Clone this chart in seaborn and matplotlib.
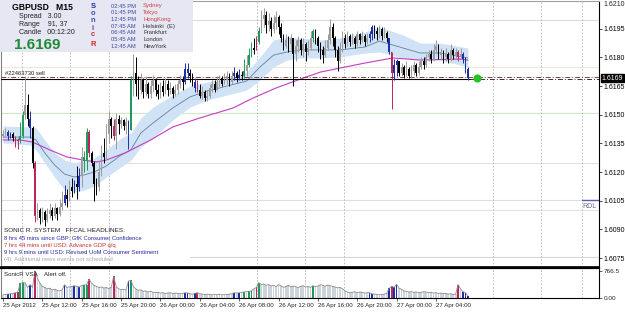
import numpy as np
import pandas as pd
import matplotlib
matplotlib.use("Agg")
import matplotlib.pyplot as plt
import matplotlib.transforms as mtransforms
from matplotlib.patches import Rectangle
import seaborn as sns

sns.set_theme(style="white")
plt.rcParams['font.family'] = ['Liberation Sans', 'DejaVu Sans']

# GBPUSD M15 bars from 25 Apr 08:00, prices in pips above 1.6000
first_open = 139
close = [140, 141, 139, 140, 138, 136, 137, 139, 150, 155,
         148, 143, 125, 97, 100, 96, 99, 95, 98, 100,
         97, 101, 98, 102, 104, 108, 106, 112, 110, 114,
         112, 118, 128, 126, 141, 130, 125, 114, 112, 120,
         130, 128, 140, 148, 144, 139, 148, 145, 147, 144,
         146, 142, 168, 172, 166, 163, 168, 162, 166, 161,
         165, 168, 163, 161, 165, 162, 166, 163, 164, 161,
         163, 166, 168, 167, 174, 172, 170, 167, 164, 163,
         160, 162, 159, 160, 164, 166, 163, 167, 169, 166,
         168, 170, 167, 170, 172, 169, 171, 170, 173, 176,
         181, 185, 184, 188, 194, 200, 202, 197, 199, 195,
         198, 201, 196, 190, 186, 189, 187, 190, 182, 186,
         189, 184, 187, 183, 185, 190, 194, 190, 186, 184,
         181, 185, 189, 196, 190, 184, 178, 185, 190, 187,
         191, 188, 190, 187, 192, 189, 191, 188, 190, 192,
         196, 194, 192, 195, 191, 193, 190, 183, 172, 176,
         178, 172, 175, 171, 174, 170, 173, 176, 172, 175,
         178, 176, 180, 182, 179, 184, 186, 181, 183, 180,
         182, 179, 184, 181, 183, 180, 182, 179, 174, 169]
high = [142, 143, 142, 141, 141, 139, 138, 146, 152, 170,
        161, 152, 144, 126, 104, 101, 102, 100, 101, 104,
        102, 104, 102, 106, 110, 113, 111, 116, 117, 116,
        123, 122, 133, 131, 143, 142, 131, 126, 117, 126,
        134, 138, 145, 152, 149, 148, 151, 150, 149, 148,
        149, 147, 170, 182, 180, 170, 172, 169, 170, 167,
        168, 171, 169, 166, 167, 168, 169, 168, 167, 165,
        166, 168, 171, 170, 177, 177, 174, 172, 169, 168,
        166, 165, 163, 163, 166, 168, 168, 170, 171, 170,
        172, 173, 172, 173, 175, 173, 174, 173, 179, 181,
        185, 188, 190, 191, 196, 205, 206, 204, 203, 201,
        202, 204, 202, 198, 192, 192, 191, 192, 190, 189,
        191, 190, 190, 188, 189, 194, 195, 195, 191, 188,
        186, 189, 192, 200, 198, 191, 186, 188, 194, 192,
        194, 192, 193, 191, 194, 193, 194, 192, 193, 194,
        197, 197, 196, 197, 196, 196, 194, 190, 183, 179,
        179, 178, 177, 176, 178, 175, 176, 178, 177, 178,
        180, 180, 182, 184, 184, 187, 189, 187, 185, 184,
        185, 183, 187, 185, 185, 184, 185, 183, 180, 175]
low = [138, 139, 137, 138, 136, 133, 132, 135, 138, 148,
       144, 138, 122, 94, 95, 93, 94, 92, 94, 96,
       95, 96, 95, 97, 100, 103, 102, 105, 107, 109,
       106, 110, 112, 120, 121, 128, 123, 105, 108, 110,
       118, 125, 127, 135, 138, 137, 132, 140, 143, 142,
       140, 132, 142, 160, 160, 158, 161, 159, 160, 159,
       159, 162, 160, 158, 159, 160, 161, 160, 161, 159,
       160, 161, 164, 163, 166, 169, 167, 165, 162, 162,
       159, 158, 157, 157, 159, 162, 162, 163, 165, 165,
       166, 166, 165, 166, 168, 167, 168, 168, 169, 170,
       175, 180, 182, 184, 187, 193, 196, 193, 194, 191,
       193, 195, 192, 188, 184, 185, 183, 184, 165, 178,
       183, 181, 180, 178, 181, 184, 188, 187, 183, 179,
       177, 180, 184, 187, 186, 180, 173, 177, 183, 185,
       186, 186, 187, 185, 186, 187, 188, 186, 187, 188,
       189, 190, 189, 190, 189, 190, 188, 182, 153, 168,
       170, 170, 170, 169, 170, 169, 169, 171, 170, 171,
       174, 174, 175, 178, 177, 178, 182, 179, 179, 177,
       178, 177, 178, 179, 179, 178, 179, 177, 172, 168]
volume = [90, 100, 110, 120, 130, 150, 170, 420, 440, 430,
          300, 380, 300, 766, 560, 420, 330, 300, 260, 280,
          230, 250, 220, 200, 230, 380, 300, 320, 330, 350,
          330, 310, 360, 370, 380, 530, 420, 360, 330, 300,
          310, 280, 300, 260, 300, 620, 320, 260, 240, 250,
          230, 480, 500, 320, 260, 220, 230, 190, 200, 170,
          190, 160, 150, 160, 140, 150, 130, 140, 150, 130,
          140, 130, 120, 130, 150, 140, 120, 110, 130, 150,
          120, 110, 100, 110, 100, 90, 100, 95, 100, 90,
          95, 100, 110, 120, 150, 140, 150, 160, 170, 180,
          190, 200, 260, 300, 440, 380, 400, 360, 380, 340,
          360, 320, 380, 350, 300, 330, 360, 310, 340, 320,
          300, 330, 350, 310, 330, 300, 350, 320, 340, 380,
          360, 330, 370, 350, 330, 310, 290, 300, 260, 200,
          170, 150, 160, 180, 150, 170, 160, 140, 150, 150,
          120, 110, 100, 90, 100, 110, 130, 280, 330, 300,
          390, 280, 250, 200, 190, 170, 180, 160, 170, 150,
          160, 180, 170, 150, 160, 140, 150, 130, 140, 120,
          130, 110, 120, 100, 110, 380, 260, 180, 150, 60]
vsa_blue = [2, 3, 11, 25, 29, 31, 51, 74, 75, 78, 94, 96, 149, 150, 157, 159, 160, 187, 188, 189]
vsa_green = [7, 8, 33, 34, 52, 98, 100, 101, 104, 126]
vsa_red = [5, 6, 13, 35, 45, 79, 103, 158, 185]

# moving averages (bar index, pips)
ema34_bar = [0, 11, 13.4, 17, 21, 25, 29, 33, 37, 42, 48, 52, 56, 61, 69, 76, 83, 91, 99,
             104.5, 110, 115.5, 121, 129, 137, 147, 153, 162.6, 169.5, 177.6, 189]
ema34 = [138.3, 138.3, 136.8, 130, 123.7, 119, 117.4, 118.5, 120, 123.2, 128.9, 131.6, 140.4,
         145.7, 153.5, 159.3, 162.4, 165, 167.6, 175, 181.2, 182.8, 183.9, 183.9, 183.9, 185.4,
         188.5, 184.9, 182.3, 182.3, 179.7]
ema34_high = [144.1, 143.6, 143.1, 136.8, 130, 126.3, 124.8, 126.3, 127.4, 131.6, 137.8, 140.4,
              148.3, 154, 160.3, 165, 167.1, 169.2, 172.3, 180.2, 189.1, 190.6, 190.1, 189.1,
              190.1, 193.3, 195.9, 191.7, 187.5, 187.5, 184.9]
ema34_low = [135.2, 134.2, 131.6, 124.8, 117.4, 110.6, 109.6, 110.6, 112.7, 117.4, 122.7, 126.3,
             133.1, 137.8, 147.2, 154, 157.7, 160.3, 162.9, 168.2, 175, 178.6, 179.7, 179.7,
             180.2, 182.3, 182.8, 179.7, 178.6, 178.6, 175]
ema89_bar = [0, 7, 12, 19, 26, 32.5, 38, 42, 49.6, 60, 69, 80, 93.5, 101.6, 111, 121, 129, 137,
             147, 158.5, 169.5, 186, 189]
ema89 = [136.8, 136.8, 135.7, 131.6, 127.9, 126.3, 125.3, 126.3, 130, 136.8, 143.6, 148.3,
         153.5, 158.7, 164, 168.7, 172.3, 174.4, 177, 179.7, 178.6, 179.1, 178.6]

time_ticks = [0, 16, 32, 48, 64, 80, 96, 112, 128, 144, 160, 176]
time_labels = ["25 Apr 2012", "25 Apr 12:00", "25 Apr 16:00", "25 Apr 20:00", "26 Apr 00:00",
               "26 Apr 04:00", "26 Apr 08:00", "26 Apr 12:00", "26 Apr 16:00", "26 Apr 20:00",
               "27 Apr 00:00", "27 Apr 04:00"]
grid_bars = [7.7, 27.2, 43.1, 103.3, 122.8, 138.6, 199.2, 218.7, 235.4]
price_ticks = [1.6195, 1.6180, 1.6165, 1.6150, 1.6135, 1.6120, 1.6105, 1.6090, 1.6075]
bid = 1.61692

def px(v):
    return 1.6 + np.asarray(v, dtype=float) / 10000

n = len(close)
df = pd.DataFrame({"bar": np.arange(n), "open": px([first_open] + close[:-1]),
                   "close": px(close), "high": px(high), "low": px(low), "volume": volume})
cols = []
for i, r in df.iterrows():
    if i in vsa_blue:
        cols.append("#1c2fa8")
    elif i in vsa_green:
        cols.append("#1f9a58")
    elif i in vsa_red:
        cols.append("#c0245c")
    elif r["close"] >= r["open"]:
        cols.append("#9c9c9c")
    else:
        cols.append("#000000")
df["color"] = cols

W, H = 625, 312
fig = plt.figure(figsize=(W / 100, H / 100), dpi=100)
fig.patch.set_facecolor("white")

def frame(x0, y0, x1, y1):
    return [x0 / W, 1 - y1 / H, (x1 - x0) / W, (y1 - y0) / H]

ax = fig.add_axes(frame(1, 1, 599, 267))
axv = fig.add_axes(frame(1, 268, 599, 298), sharex=ax)
for a in (ax, axv):
    a.set_facecolor("white")
    a.grid(False)

ax.set_xlim((1 - 3) / 2.46, (599 - 3) / 2.46)
ax.set_ylim(px(70.36), px(209.48))

# faint level lines
for lv, c in [(199.5, "#d9d9f2"), (175, "#f0e8d6"), (150.9, "#cfe8c6"), (124.7, "#dde2de"),
              (100, "#e4e4e4"), (105.4, "#dcdcec")]:
    ax.axhline(px(lv), color=c, lw=0.8, zorder=1)
ax.plot([76, 243], [px(75.6)] * 2, color="#d6d6d6", lw=0.8, zorder=1)
ax.plot([235.4, 243], [px(105.4)] * 2, color="#5a5ab8", lw=1.0, zorder=2)

for a in (ax, axv):
    for g in grid_bars:
        a.axvline(g, color="#b4b4b4", lw=0.6, ls=(0, (2, 2)), zorder=1)

# EMA34 band and lines
ax.fill_between(ema34_bar, px(ema34_low), px(ema34_high), color="#cfe2f6", lw=0, zorder=2)
sns.lineplot(x=ema34_bar, y=px(ema34), color="#64809c", lw=0.6, ax=ax, zorder=3)
sns.lineplot(x=ema89_bar, y=px(ema89), color="#c23cc2", lw=0.8, ax=ax, zorder=3)

# order / bid lines
ax.axhline(bid + 0.00005, color="#8a3a3a", lw=0.7, ls=(0, (5, 2, 1, 2)), zorder=4)
ax.plot([ax.get_xlim()[0], 190], [bid - 0.00005] * 2, color="#000000", lw=0.8, zorder=4)
ax.plot([190, ax.get_xlim()[1]], [bid - 0.00005] * 2, color="#333333", lw=0.7,
        ls=(0, (5, 2, 1, 2)), zorder=4)

# candles
ax.vlines(df["bar"], df["low"], df["high"], colors=df["color"], lw=0.7, zorder=5)
body_lo = np.minimum(df["open"], df["close"])
body_h = np.maximum(np.abs(df["close"] - df["open"]), 0.00003)
ax.bar(df["bar"], body_h, bottom=body_lo, width=0.65, color=df["color"], lw=0, zorder=5)
ax.scatter([192.7], [bid], s=34, color="#22c322", zorder=6, linewidths=0)

# price axis
ax.yaxis.tick_right()
ax.set_yticks(price_ticks)
ax.set_yticklabels([f"{p:.4f}" for p in price_ticks], fontsize=5)
ax.tick_params(axis="y", length=2, width=0.5, pad=1.5, colors="black")
ax.tick_params(axis="x", bottom=False, labelbottom=False)
tr = mtransforms.blended_transform_factory(ax.transAxes, ax.transData)
ax.text(1.004, bid, "1.6169", transform=tr, fontsize=5, color="white", va="center", ha="left",
        bbox=dict(facecolor="black", edgecolor="black", pad=0.6), zorder=10)
fig.text(603 / W, 1 - 4 / H, "1.6210", fontsize=5, va="center", ha="left")
fig.text(582 / W, 1 - 206 / H, "RDL", fontsize=5, color="#6a6a90", va="center", ha="left")

for s, c, w in [("left", "#808080", 0.8), ("top", "#a0a0a0", 0.8), ("right", "black", 0.8),
                ("bottom", "black", 1.2)]:
    ax.spines[s].set_color(c)
    ax.spines[s].set_linewidth(w)

# volume panel
vol_col = [c if i in vsa_blue + vsa_green + vsa_red else "#cdd3db" for i, c in enumerate(df["color"])]
axv.bar(df["bar"], df["volume"], width=0.7, color=vol_col, lw=0, zorder=2)
sns.lineplot(x=df["bar"], y=df["volume"], color="#8c8c8c", lw=0.6, ax=axv, zorder=3)
axv.set_ylim(0, 852)
axv.yaxis.tick_right()
axv.set_yticks([0, 766.5])
axv.set_yticklabels(["0.00", "766.5"], fontsize=4.6)
axv.tick_params(axis="y", length=2, width=0.5, pad=1.5)
axv.set_ylabel("")
axv.set_xlabel("")
axv.set_xticks(time_ticks)
axv.set_xticklabels(time_labels, fontsize=4.4, ha="left")
axv.tick_params(axis="x", length=2, width=0.5, pad=1.5, bottom=True)
for s, c, w in [("left", "#808080", 0.8), ("top", "black", 1.6), ("right", "black", 0.8),
                ("bottom", "black", 0.8)]:
    axv.spines[s].set_color(c)
    axv.spines[s].set_linewidth(w)
ax.set_xlabel("")
ax.set_ylabel("")

def ftxt(x, y, s, **kw):
    kw.setdefault("fontsize", 4.4)
    fig.text(x / W, 1 - y / H, s, va="center", ha="left", zorder=8, **kw)

# info panel
fig.add_artist(Rectangle((0, 1 - 52 / H), 193 / W, 52 / H, transform=fig.transFigure,
                         facecolor="#e7e7f4", edgecolor="none", zorder=7))
ftxt(12, 7, "GBPUSD   M15", fontsize=6.2, fontweight="bold", color="black")
ftxt(19, 16, "Spread   3.00", fontsize=5, color="#202020")
ftxt(19, 24.5, "Range    91, 37", fontsize=5, color="#202020")
ftxt(19, 33, "Candle   00:12:20", fontsize=5, color="#202020")
ftxt(14, 45, "1.6169", fontsize=11, fontweight="bold", color="#1f8a35")
for s, y, c in [("S", 6, "#1c2a9c"), ("o", 13.5, "#2d4fc0"), ("n", 20.5, "#4a4ab8"),
                ("i", 28, "#7a3aa8"), ("c", 35, "#c42a3a"), ("R", 44, "#d42020")]:
    fig.text(93 / W, 1 - y / H, s, fontsize=5.4, fontweight="bold", color=c,
             ha="center", va="center", zorder=8)
times = ["02:45 PM", "01:45 PM", "12:45 PM", "07:45 AM", "06:45 AM", "05:45 AM", "12:45 AM"]
cities = ["Sydney", "Tokyo", "HongKong", "Helsinki  (E)", "Frankfurt", "London", "NewYork"]
for k, (t, cty) in enumerate(zip(times, cities)):
    y = 6 + k * 6.7
    ftxt(111, y, t, fontsize=4.2, color="#3a4aa0")
    ftxt(143, y, cty, fontsize=4.2, color="#cc4040" if k < 3 else "#303030")

ftxt(5, 73, "#22463730 sell", fontsize=4.2, color="#202020")

ftxt(4, 231, "SONIC R. SYSTEM   FFCAL HEADLINES:", fontsize=4.6, color="#202020")
ftxt(4, 238.5, "8 hrs 45 mins since GBP: GfK Consumer Confidence", color="#2a2aa0", fontsize=4.2)
ftxt(4, 245.5, "7 hrs 44 mins until USD: Advance GDP q/q", color="#c83030", fontsize=4.2)
ftxt(4, 252.5, "9 hrs 9 mins until USD: Revised UoM Consumer Sentiment", color="#2a2aa0", fontsize=4.2)
ftxt(4, 259.5, "(4)  Additional news events not scheduled", color="#a8a8a8", fontsize=4.2)
ftxt(4, 275, "SonicR VSA    Alert off.", fontsize=4.4, color="#202020")

fig.savefig("out.png", dpi=100)
